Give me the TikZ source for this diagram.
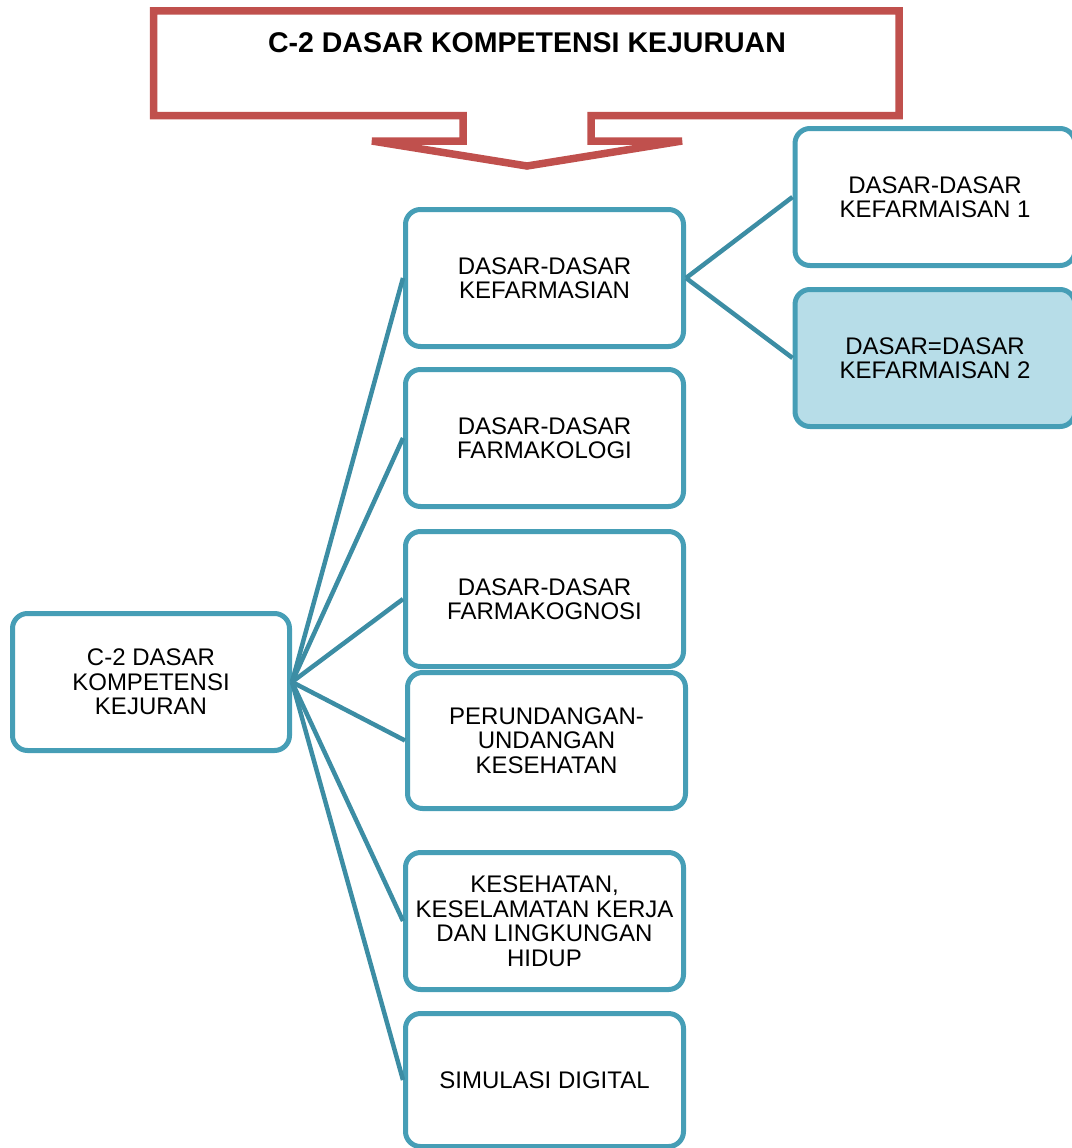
\documentclass[tikz,border=0pt]{standalone}
\usepackage{fontspec}
\setmainfont{Liberation Sans}
\definecolor{redc}{HTML}{C0504D}
\definecolor{tealb}{HTML}{469EB6}
\definecolor{tealc}{HTML}{3C8DA4}
\definecolor{lblue}{HTML}{B7DDE8}
\begin{document}
\begin{tikzpicture}[x=1pt,y=-1pt,
  box/.style={draw=tealb, line width=5pt, rounded corners=15pt, fill=white,
    minimum width=278pt, minimum height=137pt, align=center, inner sep=2pt,
    font=\fontsize{24}{24.5}\selectfont},
  conn/.style={draw=tealc, line width=4.5pt},
  callout/.style={draw=redc, line width=7.5pt, fill=white}]
\useasboundingbox (0,0) rectangle (1071,1148);
% top callout
\draw[callout] (153.5,11) -- (899,11) -- (899,115.5) -- (591,115.5) -- (591,141) -- (682,141) -- (527,166) -- (372,141) -- (463,141) -- (463,115.5) -- (153.5,115.5) -- cycle;
\node[font=\fontsize{28.5}{30}\selectfont\bfseries] (title) at (527,43) {C-2 DASAR KOMPETENSI KEJURUAN};
% boxes
\node[box, minimum width=277pt] (root) at (151,682) {C-2 DASAR\\KOMPETENSI\\KEJURAN};
\node[box] (b1) at (544.5,278) {DASAR-DASAR\\KEFARMASIAN};
\node[box] (b2) at (544.5,438) {DASAR-DASAR\\FARMAKOLOGI};
\node[box, minimum height=135pt] (b3) at (544.5,599) {DASAR-DASAR\\FARMAKOGNOSI};
\node[box, minimum height=136pt] (b4) at (546.5,740.5) {PERUNDANGAN-\\UNDANGAN\\KESEHATAN};
\node[box] (b5) at (544.5,921) {KESEHATAN,\\KESELAMATAN KERJA\\DAN LINGKUNGAN\\HIDUP};
\node[box, minimum height=133pt] (b6) at (544.5,1080) {SIMULASI DIGITAL};
\node[box, minimum width=280pt] (r1) at (935,197) {DASAR-DASAR\\KEFARMAISAN 1};
\node[box, minimum width=280pt, fill=lblue] (r2) at (935,358) {DASAR=DASAR\\KEFARMAISAN 2};
% connectors
\draw[conn] (root.east) -- (b1.west);
\draw[conn] (root.east) -- (b2.west);
\draw[conn] (root.east) -- (b3.west);
\draw[conn] (root.east) -- (b4.west);
\draw[conn] (root.east) -- (b5.west);
\draw[conn] (root.east) -- (b6.west);
\draw[conn] (b1.east) -- (r1.west);
\draw[conn] (b1.east) -- (r2.west);
\end{tikzpicture}
\end{document}
